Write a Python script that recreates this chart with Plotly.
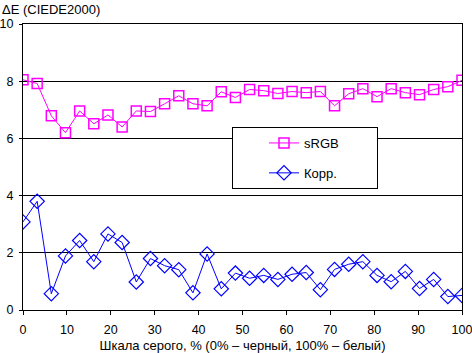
import plotly.graph_objects as go

n_points = 32
gray_pct = [i * 100 / 31 for i in range(n_points)]

srgb = [8.05, 7.92, 6.79, 6.20, 6.96, 6.51, 6.82, 6.40, 6.96, 6.94, 7.21, 7.49,
        7.21, 7.14, 7.63, 7.43, 7.71, 7.67, 7.57, 7.64, 7.60, 7.64, 7.14, 7.56,
        7.74, 7.46, 7.74, 7.60, 7.53, 7.71, 7.81, 8.03]

korr = [3.08, 3.80, 0.57, 1.89, 2.43, 1.69, 2.66, 2.36, 0.98, 1.80, 1.55, 1.41,
        0.60, 1.96, 0.74, 1.29, 1.11, 1.21, 1.07, 1.25, 1.31, 0.71, 1.42, 1.60,
        1.69, 1.21, 0.99, 1.35, 0.75, 1.07, 0.47, 0.51]

x_ticks = [0, 10, 20, 30, 40, 50, 60, 70, 80, 90, 100]
y_ticks = [0, 2, 4, 6, 8, 10]

FONT = "Liberation Sans, Arial, sans-serif"
PAD = "\u00a0" * 9

fig = go.Figure()
fig.add_trace(go.Scatter(
    x=gray_pct, y=srgb, name="sRGB" + PAD, mode="lines+markers",
    line=dict(color="#FF00FF", width=1),
    marker=dict(symbol="square-open", size=10, color="#FF00FF", line=dict(width=1.5)),
    legendgroup="a",
))
fig.add_trace(go.Scatter(
    x=gray_pct, y=korr, name="Корр." + PAD, mode="lines+markers",
    line=dict(color="#0000FF", width=1),
    marker=dict(symbol="diamond-open", size=11, color="#0000FF", line=dict(width=1.2)),
    legendgroup="b",
))

fig.update_layout(
    width=472, height=353,
    margin=dict(l=23, r=10, t=24, b=43, autoexpand=False),
    paper_bgcolor="white", plot_bgcolor="white",
    font=dict(family=FONT, size=13, color="black"),
    showlegend=True,
    legend=dict(
        x=(232 - 23) / 439, y=(310 - 127) / 286, xanchor="left", yanchor="top",
        bordercolor="black", borderwidth=1, bgcolor="white",
        font=dict(family=FONT, size=13, color="black"),
        tracegroupgap=10, traceorder="grouped", indentation=31,
    ),
    xaxis=dict(
        range=[0, 100], tickvals=x_ticks, ticktext=[str(v) for v in x_ticks],
        showgrid=False, zeroline=False, automargin=False,
        showline=True, linecolor="black", linewidth=1, mirror=True,
        ticks="outside", ticklen=4, tickcolor="black", ticklabelstandoff=4,
        ticklabeloverflow="allow", tickfont=dict(size=12.5),
        title=dict(text="Шкала серого, % (0% – черный, 100% – белый)", standoff=4,
                   font=dict(size=13)),
    ),
    yaxis=dict(
        range=[0, 10], tickvals=y_ticks, ticktext=[str(v) for v in y_ticks],
        showgrid=True, gridcolor="black", gridwidth=1, zeroline=False, automargin=False,
        showline=True, linecolor="black", linewidth=1, mirror=True,
        ticks="outside", ticklen=3, tickcolor="black", ticklabelstandoff=3,
        ticklabeloverflow="allow", tickfont=dict(size=12.5),
    ),
    annotations=[dict(
        text="ΔE (CIEDE2000)", xref="paper", yref="paper", x=0, y=1,
        xanchor="left", yanchor="bottom", xshift=-23, yshift=5, showarrow=False,
        font=dict(family=FONT, size=13, color="black"),
    )],
)

fig.write_html("out.html")
